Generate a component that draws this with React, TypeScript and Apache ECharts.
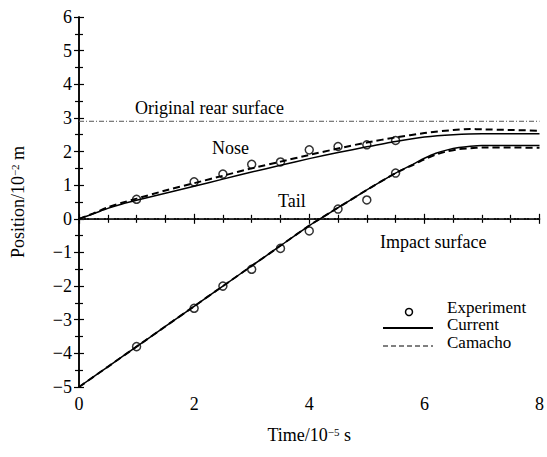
import React, { useEffect, useRef } from "react";
import * as echarts from "echarts";

const timeExp = [1, 2, 2.5, 3, 3.5, 4, 4.5, 5, 5.5];
const noseExp = [0.58, 1.1, 1.33, 1.62, 1.69, 2.05, 2.15, 2.2, 2.33];
const tailExp = [-3.8, -2.66, -2.0, -1.5, -0.88, -0.36, 0.29, 0.56, 1.36];

const timeNose = [0, 0.25, 0.5, 0.75, 1, 1.5, 2, 2.5, 3, 3.5, 4, 4.5, 5, 5.5, 6, 6.5, 7, 7.5, 8];
const noseCurrent = [0, 0.15, 0.31, 0.44, 0.55, 0.76, 0.97, 1.18, 1.39, 1.59, 1.79, 1.97, 2.14, 2.3, 2.43, 2.5, 2.53, 2.53, 2.53];
const timeNoseC = [0, 0.25, 0.5, 0.75, 1, 1.5, 2, 2.5, 3, 3.5, 4, 4.5, 5, 5.5, 6, 6.5, 6.8, 7, 7.5, 8];
const noseCamacho = [0, 0.16, 0.34, 0.48, 0.6, 0.84, 1.06, 1.28, 1.5, 1.7, 1.9, 2.09, 2.27, 2.42, 2.55, 2.64, 2.67, 2.66, 2.64, 2.62];

const timeTail = [0, 0.5, 1, 1.5, 2, 2.5, 3, 3.5, 4, 4.5, 5, 5.5, 5.8, 6, 6.2, 6.4, 6.6, 6.8, 7, 7.5, 8];
const tailCurrent = [-5, -4.4, -3.8, -3.2, -2.6, -2.0, -1.4, -0.8, -0.2, 0.33, 0.86, 1.36, 1.62, 1.8, 1.95, 2.05, 2.12, 2.16, 2.18, 2.18, 2.18];
const tailCamacho = [-5, -4.4, -3.8, -3.2, -2.6, -2.0, -1.4, -0.8, -0.2, 0.33, 0.86, 1.36, 1.6, 1.77, 1.91, 2.01, 2.07, 2.1, 2.12, 2.12, 2.11];

const rearSurface = 2.9;
const impactSurface = 0;
const xRange = [0, 8];

const FONT = "'Liberation Serif', 'Times New Roman', Times, 'DejaVu Serif', serif";

const zip = (xs: number[], ys: number[]) => xs.map((x, i) => [x, ys[i]]);

export default function App() {
  const ref = useRef<HTMLDivElement>(null);
  useEffect(() => {
    document.body.style.margin = "0";
    const chart = echarts.init(ref.current!, null, { renderer: "svg" });
    const minus = (v: number) => String(v).replace("-", "−");
    const axisCommon = {
      axisLine: { show: true, lineStyle: { color: "#000", width: 1.5 } },
      axisTick: { show: true, inside: true, length: 5, lineStyle: { color: "#000", width: 1.2 } },
      minorTick: { show: true, length: 4, lineStyle: { color: "#000", width: 1.2 } },
      splitLine: { show: false },
    };
    const xBase = { type: "value", min: 0, max: 8, interval: 2, minorTick: { ...axisCommon.minorTick, splitNumber: 4 } };
    const yBase = { type: "value", min: -5, max: 6, interval: 1, minorTick: { ...axisCommon.minorTick, splitNumber: 2 } };
    const labelStyle = { color: "#000", fontFamily: FONT, fontSize: 18 };
    const richName = {
      a: { fontFamily: FONT, fontSize: 18, color: "#000" },
      s: { fontFamily: FONT, fontSize: 11, color: "#000", verticalAlign: "top" as const },
    };
    const refLine = { color: "#555", width: 1, type: [5, 2, 1, 2] };
    const txt = (text: string, x: number, y: number, size = 18) => ({
      type: "text",
      x,
      y,
      style: { text, font: `${size}px ${FONT}`, fill: "#000", verticalAlign: "middle" },
    });
    chart.setOption({
      animation: false,
      grid: { left: 79, right: 5, top: 17, bottom: 70 },
      xAxis: [
        {
          ...axisCommon,
          ...xBase,
          position: "bottom",
          axisLabel: { ...labelStyle, margin: 8, formatter: minus },
          name: "{a|Time/10}{s|−5}{a| s}",
          nameLocation: "middle",
          nameGap: 39,
          nameTextStyle: { rich: richName },
        },
        { ...axisCommon, ...xBase, position: "top", axisLabel: { show: false } },
      ],
      yAxis: [
        {
          ...axisCommon,
          ...yBase,
          position: "left",
          axisLabel: { ...labelStyle, margin: 7, formatter: minus },
          name: "{a|Position/10}{s|−2}{a| m}",
          nameLocation: "middle",
          nameGap: 52,
          nameRotate: 90,
          nameTextStyle: { rich: richName },
        },
        { ...axisCommon, ...yBase, position: "right", axisLabel: { show: false } },
      ],
      series: [
        {
          type: "line",
          data: zip(xRange, [rearSurface, rearSurface]),
          symbol: "none",
          lineStyle: refLine,
          silent: true,
        },
        {
          type: "line",
          data: zip(xRange, [impactSurface, impactSurface]),
          symbol: "none",
          lineStyle: refLine,
          silent: true,
        },
        {
          name: "Current",
          type: "line",
          data: zip(timeNose, noseCurrent),
          symbol: "none",
          smooth: 0.2,
          lineStyle: { color: "#000", width: 1.5 },
        },
        {
          name: "Current",
          type: "line",
          data: zip(timeTail, tailCurrent),
          symbol: "none",
          smooth: 0.2,
          lineStyle: { color: "#000", width: 1.5 },
        },
        {
          name: "Camacho",
          type: "line",
          data: zip(timeNoseC, noseCamacho),
          symbol: "none",
          smooth: 0.2,
          lineStyle: { color: "#000", width: 2, type: [7, 4] },
        },
        {
          name: "Camacho",
          type: "line",
          data: zip(timeTail, tailCamacho),
          symbol: "none",
          smooth: 0.2,
          lineStyle: { color: "#000", width: 2, type: [7, 4] },
        },
        {
          name: "Experiment",
          type: "scatter",
          data: zip(timeExp, noseExp),
          symbol: "circle",
          symbolSize: 8,
          itemStyle: { color: "rgba(255,255,255,0)", borderColor: "#000", borderWidth: 1.5 },
        },
        {
          name: "Experiment",
          type: "scatter",
          data: zip(timeExp, tailExp),
          symbol: "circle",
          symbolSize: 8,
          itemStyle: { color: "rgba(255,255,255,0)", borderColor: "#000", borderWidth: 1.5 },
        },
      ],
      graphic: [
        txt("Original rear surface", 135, 108),
        txt("Nose", 212, 148),
        txt("Tail", 278, 201),
        txt("Impact surface", 380, 242),
        { type: "circle", shape: { cx: 409, cy: 312, r: 3.5 }, style: { fill: "none", stroke: "#000", lineWidth: 1.5 } },
        txt("Experiment", 447, 307, 17),
        { type: "line", shape: { x1: 383, y1: 328, x2: 433, y2: 328 }, style: { stroke: "#000", lineWidth: 1.8 } },
        txt("Current", 447, 324.5, 17),
        { type: "line", shape: { x1: 383, y1: 346, x2: 433, y2: 346 }, style: { stroke: "#000", lineWidth: 1, lineDash: [5, 3] } },
        txt("Camacho", 447, 342, 17),
      ],
    });
    return () => chart.dispose();
  }, []);
  return <div ref={ref} style={{ width: 547, height: 457 }} />;
}
